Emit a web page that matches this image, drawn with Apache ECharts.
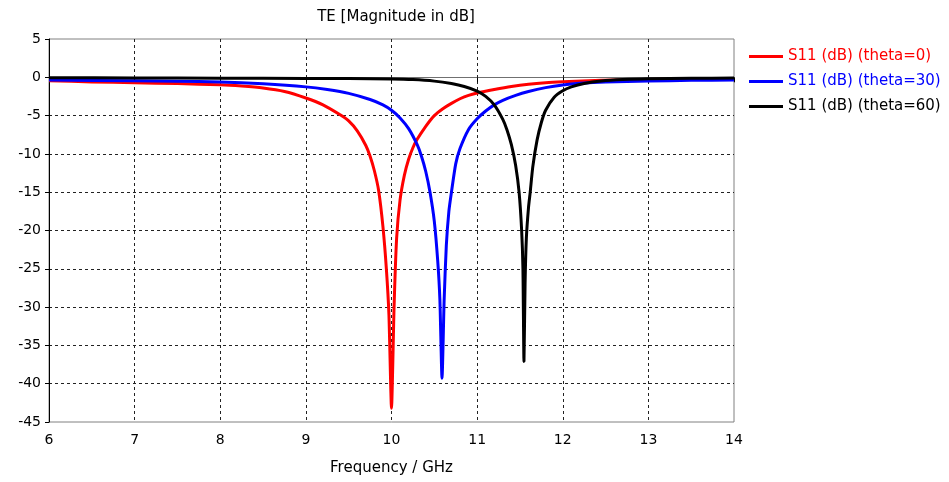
<!DOCTYPE html>
<html>
<head>
<meta charset="utf-8">
<script src="https://cdn.jsdelivr.net/npm/echarts@6/dist/echarts.min.js"></script>
<style>html,body{margin:0;padding:0;background:#fff}#c{width:949px;height:482px}</style>
</head>
<body>
<div id="c"></div>
<script>
const titleText = 'TE [Magnitude in dB]';
const xName = 'Frequency / GHz';
const seriesNames = ['S11 (dB) (theta=0)', 'S11 (dB) (theta=30)', 'S11 (dB) (theta=60)'];

const freq0 = [6, 6.5, 7, 7.5, 8, 8.25, 8.5, 8.75, 9.0, 9.2, 9.4, 9.5, 9.6, 9.7, 9.75, 9.8, 9.85, 9.9, 9.94, 9.97, 10.0, 10.03, 10.06, 10.1, 10.15, 10.2, 10.25, 10.3, 10.4, 10.5, 10.6, 10.7, 10.8, 10.9, 11.0, 11.2, 11.4, 11.6, 11.8, 12.0, 12.3, 12.6, 13.0, 13.5, 14];
const s11_0 = [-0.45, -0.6, -0.72, -0.82, -0.98, -1.15, -1.4, -1.85, -2.7, -3.6, -4.9, -5.7, -7.0, -8.9, -10.3, -12.2, -14.8, -19.5, -25, -31, -43.2, -30, -21, -16, -12.8, -10.7, -9.2, -8.1, -6.4, -5.0, -4.1, -3.4, -2.8, -2.35, -2.05, -1.6, -1.2, -0.9, -0.7, -0.58, -0.45, -0.35, -0.28, -0.22, -0.18];

const freq30 = [6, 7, 7.5, 8, 8.5, 9.0, 9.25, 9.5, 9.75, 9.9, 10.0, 10.1, 10.2, 10.3, 10.35, 10.4, 10.45, 10.5, 10.54, 10.565, 10.59, 10.615, 10.64, 10.67, 10.7, 10.75, 10.8, 10.9, 11.0, 11.1, 11.2, 11.3, 11.45, 11.6, 11.8, 12.0, 12.2, 12.5, 13.0, 13.5, 14];
const s11_30 = [-0.35, -0.45, -0.5, -0.6, -0.85, -1.25, -1.6, -2.1, -2.9, -3.6, -4.3, -5.3, -6.7, -8.8, -10.3, -12.3, -15, -18.8, -24, -29, -39.3, -29, -22, -17.5, -15, -11.3, -9.3, -6.8, -5.4, -4.4, -3.6, -3.0, -2.35, -1.85, -1.35, -1.0, -0.78, -0.6, -0.48, -0.4, -0.35];

const freq60 = [6, 7, 8, 9, 9.5, 10, 10.25, 10.5, 10.7, 10.85, 11.0, 11.1, 11.2, 11.3, 11.35, 11.4, 11.45, 11.49, 11.52, 11.535, 11.547, 11.56, 11.575, 11.6, 11.62, 11.65, 11.7, 11.75, 11.8, 11.9, 12.0, 12.1, 12.25, 12.45, 12.7, 13.0, 13.5, 14];
const s11_60 = [-0.05, -0.08, -0.12, -0.15, -0.17, -0.22, -0.3, -0.5, -0.82, -1.2, -1.8, -2.5, -3.6, -5.5, -6.9, -8.8, -11.5, -15, -20, -25, -37.1, -27, -21, -17, -15, -11.7, -8.2, -5.9, -4.3, -2.6, -1.75, -1.25, -0.8, -0.47, -0.28, -0.18, -0.13, -0.1];

const seriesColors = ['#ff0000', '#0000ff', '#000000'];
const xMin = 6, xMax = 14, xStep = 1;
const yMin = -45, yMax = 5, yStep = 5;

const pairs = (xs, ys) => xs.map((x, i) => [x, ys[i]]);
const allData = [pairs(freq0, s11_0), pairs(freq30, s11_30), pairs(freq60, s11_60)];

const FONT = 'DejaVu Sans';
const chart = echarts.init(document.getElementById('c'));
chart.setOption({
  animation: false,
  backgroundColor: '#fff',
  title: {
    text: titleText, left: 391, top: 5, textAlign: 'center',
    textStyle: {fontFamily: FONT, fontSize: 15, fontWeight: 'normal', color: '#000'}
  },
  legend: {
    orient: 'vertical', left: 744, top: 44, itemWidth: 34, itemHeight: 3, itemGap: 10,
    icon: 'rect',
    data: seriesNames.map((n, i) => ({name: n, textStyle: {color: seriesColors[i]}})),
    textStyle: {fontFamily: FONT, fontSize: 15}
  },
  grid: {left: 49, right: 215, top: 39, bottom: 60, show: true, borderColor: '#808080', borderWidth: 1},
  xAxis: {
    type: 'value', min: xMin, max: xMax, interval: xStep,
    name: xName, nameLocation: 'middle', nameGap: 39,
    nameTextStyle: {fontFamily: FONT, fontSize: 15, color: '#000'},
    axisLine: {lineStyle: {color: '#707070', width: 1}},
    axisTick: {show: true, length: 5, lineStyle: {color: '#000'}},
    axisLabel: {fontFamily: FONT, fontSize: 14, color: '#000', margin: 11},
    splitLine: {show: true, showMinLine: false, showMaxLine: false, lineStyle: {type: [3, 3], color: '#222', width: 1}}
  },
  yAxis: {
    type: 'value', min: yMin, max: yMax, interval: yStep,
    axisLine: {show: true, lineStyle: {color: '#000', width: 1}},
    axisTick: {show: true, length: 4, lineStyle: {color: '#000'}},
    axisLabel: {fontFamily: FONT, fontSize: 14, color: '#000', margin: 8},
    splitLine: {show: true, showMinLine: false, showMaxLine: false, lineStyle: {type: [3, 3], color: '#222', width: 1}}
  },
  series: allData.map((d, i) => ({
    name: seriesNames[i], type: 'line', data: d, showSymbol: false, symbol: 'none',
    smooth: 0.2, lineStyle: {color: seriesColors[i], width: 3}, itemStyle: {color: seriesColors[i]}
  }))
});
</script>
</body>
</html>
